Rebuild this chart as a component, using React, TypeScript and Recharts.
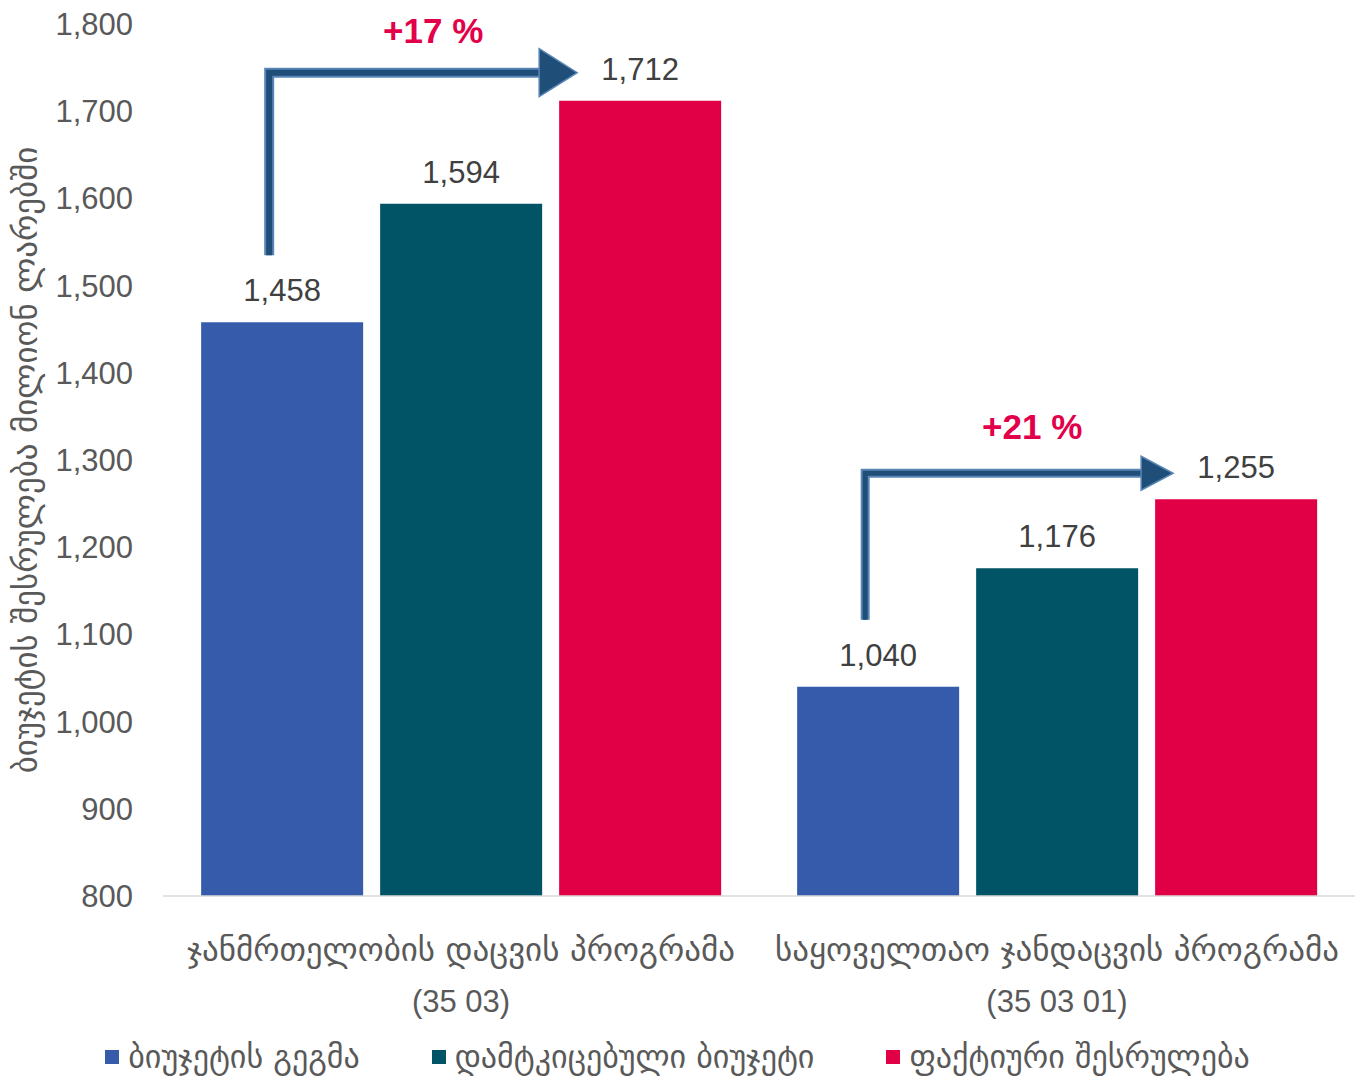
import React from "react";
import { BarChart, Bar, XAxis, YAxis, Legend, LabelList } from "recharts";

const categories = [
  ["ჯანმრთელობის დაცვის პროგრამა", "(35 03)"],
  ["საყოველთაო ჯანდაცვის პროგრამა", "(35 03 01)"],
];
const plan = [1458, 1040];
const approved = [1594, 1176];
const actual = [1712, 1255];
const growth = ["+17 %", "+21 %"];
const yTicks = [800, 900, 1000, 1100, 1200, 1300, 1400, 1500, 1600, 1700, 1800];

const seriesNames = ["ბიუჯეტის გეგმა", "დამტკიცებული ბიუჯეტი", "ფაქტიური შესრულება"];
const yTitle = "ბიუჯეტის შესრულება მილიონ ლარებში";
const COLORS = ["#355BAA", "#005466", "#E10045"];

const FONT = '"Liberation Sans", Arial, "DejaVu Sans", sans-serif';
const GEO = '"DejaVu Sans", sans-serif';
const BAR_GAP = 17;
const Y_MIN = 800;
// arrow head sizes per group (the second arrow is a bit smaller)
const ARROWS = [
  { len: 38, half: 24, w: 8 },
  { len: 32, half: 17, w: 7 },
];

const data = categories.map((c, i) => ({
  name: c[0],
  sub: c[1],
  plan: plan[i],
  approved: approved[i],
  actual: actual[i],
}));

const fmt = (v: number) => v.toLocaleString("en-US");

const CategoryTick = ({ x, y, payload, index }: any) => {
  const lines = categories[index] || [payload.value, ""];
  return (
    <g fill="#595959">
      <text x={x} y={y + 57} textAnchor="middle" fontFamily={GEO} fontSize={33}>{lines[0]}</text>
      <text x={x} y={y + 108} textAnchor="middle" fontFamily={FONT} fontSize={31}>{lines[1]}</text>
    </g>
  );
};

const YTitle = ({ viewBox }: any) => {
  const cx = 25;
  const cy = viewBox.y + viewBox.height / 2;
  return (
    <text
      x={cx}
      y={cy}
      transform={`rotate(-90, ${cx}, ${cy})`}
      textAnchor="middle"
      dominantBaseline="central"
      fontFamily={GEO}
      fontSize={33}
      fill="#595959"
    >
      {yTitle}
    </text>
  );
};

const GrowthArrow = (props: any) => {
  const vb = props.viewBox || {};
  const x = props.x ?? vb.x;
  const y = props.y ?? vb.y;
  const width = props.width ?? vb.width;
  const height = props.height ?? vb.height;
  const i = props.index;
  const baseline = y + height;
  const ppu = height / (plan[i] - Y_MIN);
  const redTop = baseline - (actual[i] - Y_MIN) * ppu;
  const redLeft = x + 2 * (width + BAR_GAP);
  const a = ARROWS[i];
  const vx = x + width * 0.42;
  const vBottom = y - 67;
  const hy = redTop - 28 + i * 2;
  const tip = redLeft + 18;
  const shaftEnd = tip - a.len + 2;
  const pts = `${vx},${vBottom} ${vx},${hy} ${shaftEnd},${hy}`;
  return (
    <g>
      <polyline points={pts} fill="none" stroke="#5A86B6" strokeWidth={a.w + 2} strokeLinejoin="miter" />
      <polyline points={pts} fill="none" stroke="#1F4E79" strokeWidth={a.w - 2} strokeLinejoin="miter" />
      <polygon
        points={`${tip - a.len},${hy - a.half} ${tip},${hy} ${tip - a.len},${hy + a.half}`}
        fill="#1F4E79"
        stroke="#5A86B6"
        strokeWidth={1.5}
      />
      <text
        x={(vx + tip) / 2 + 10 + i * 3}
        y={hy - 30 - i * 4}
        textAnchor="middle"
        fontFamily={FONT}
        fontSize={35}
        fontWeight="bold"
        fill="#E2004A"
      >
        {growth[i]}
      </text>
    </g>
  );
};

const renderLegend = () => (
  <div
    style={{
      display: "flex",
      justifyContent: "center",
      alignItems: "center",
      gap: 72,
      paddingTop: 12,
      fontFamily: GEO,
      fontSize: 32,
      color: "#595959",
      lineHeight: "38px",
    }}
  >
    {seriesNames.map((n, i) => (
      <div key={n} style={{ display: "flex", alignItems: "center" }}>
        <div style={{ width: 14, height: 14, background: COLORS[i], marginRight: 9 }} />
        <span>{n}</span>
      </div>
    ))}
  </div>
);

const labelStyle = { fontFamily: FONT, fontSize: 31, fill: "#404040" };

export default function App() {
  return (
    <div style={{ position: "absolute", left: 0, top: 0, background: "#fff" }}>
      <BarChart
        width={1355}
        height={1077}
        data={data}
        margin={{ top: 24, right: 0, left: 0, bottom: 0 }}
        barGap={BAR_GAP}
        barCategoryGap="6.4%"
      >
        <XAxis
          dataKey="name"
          tick={<CategoryTick />}
          tickLine={false}
          axisLine={{ stroke: "#D9D9D9", strokeWidth: 1.5 }}
          height={130}
          interval={0}
        />
        <YAxis
          domain={[Y_MIN, 1800]}
          ticks={yTicks}
          width={163}
          axisLine={false}
          tickLine={false}
          tickSize={0}
          tickMargin={30}
          tickFormatter={fmt}
          tick={{ fontFamily: FONT, fontSize: 31, fill: "#595959" }}
          label={<YTitle />}
        />
        <Legend verticalAlign="bottom" height={51} content={renderLegend} />
        <Bar dataKey="plan" name={seriesNames[0]} fill={COLORS[0]} isAnimationActive={false}>
          <LabelList dataKey="plan" position="top" offset={21} formatter={fmt} style={labelStyle} />
          <LabelList dataKey="plan" content={<GrowthArrow />} />
        </Bar>
        <Bar dataKey="approved" name={seriesNames[1]} fill={COLORS[1]} isAnimationActive={false}>
          <LabelList dataKey="approved" position="top" offset={21} formatter={fmt} style={labelStyle} />
        </Bar>
        <Bar dataKey="actual" name={seriesNames[2]} fill={COLORS[2]} isAnimationActive={false}>
          <LabelList dataKey="actual" position="top" offset={21} formatter={fmt} style={labelStyle} />
        </Bar>
      </BarChart>
    </div>
  );
}
